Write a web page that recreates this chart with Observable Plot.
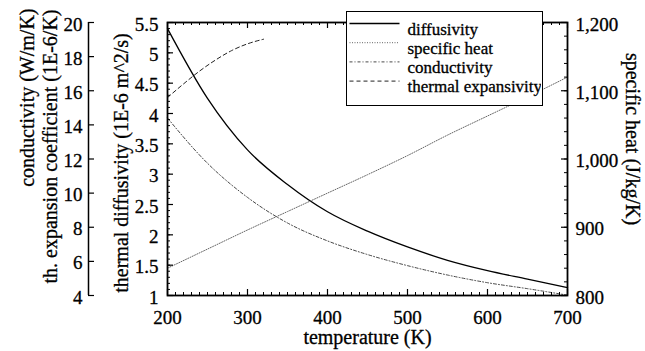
<!DOCTYPE html>
<html>
<head>
<meta charset="utf-8">
<script src="https://cdn.jsdelivr.net/npm/d3@7"></script>
<script src="https://cdn.jsdelivr.net/npm/@observablehq/plot@0.6"></script>
<style>
  html, body { margin: 0; padding: 0; background: #fff; }
  #wrap { position: relative; width: 645px; height: 351px; }
  #legend { position: absolute; left: 346px; top: 11px; width: 197px; height: 95px; box-sizing: border-box; border: 1.5px solid #000; background: #fff; }
</style>
</head>
<body>
<div id="wrap"><div id="chart"></div><div id="legend"></div></div>
<script>
// ---- data ----
const temps = [200, 250, 300, 350, 400, 450, 500, 550, 600, 650, 700];
const diffusivity = [5.40, 4.25, 3.40, 2.83, 2.38, 2.06, 1.80, 1.58, 1.41, 1.27, 1.13];      // 1E-6 m^2/s
const specificHeat = [840, 868, 896, 923, 950, 977, 1005, 1035, 1063, 1091, 1120];           // J/kg/K
const conductivity = [14.4, 11.75, 9.75, 8.25, 7.2, 6.4, 5.75, 5.2, 4.75, 4.4, 4.02];        // W/m/K
const expTemps = [200, 220, 240, 260, 280, 300, 320];
const expansivity = [15.6, 16.4, 17.15, 17.8, 18.35, 18.75, 19.02];                         // 1E-6/K

const tempTicks = [200, 300, 400, 500, 600, 700];
const diffTicks = [1, 1.5, 2, 2.5, 3, 3.5, 4, 4.5, 5, 5.5];
const outerTicks = [4, 6, 8, 10, 12, 14, 16, 18, 20];
const specTicks = [800, 900, 1000, 1100, 1200];

const diffDomain = [1, 5.5];
const outerDomain = [4, 20];
const specDomain = [800, 1200];

const seriesNames = ["diffusivity", "specific heat", "conductivity", "thermal expansivity"];

// map secondary-axis values onto the shared (diffusivity) y scale
const lin = (dom) => (v) => diffDomain[0] + (v - dom[0]) * (diffDomain[1] - diffDomain[0]) / (dom[1] - dom[0]);
const fromOuter = lin(outerDomain);
const fromSpec = lin(specDomain);

const tempMinor = d3.range(200, 701, 10);
const diffMinor = d3.range(10, 56, 1).map(v => v / 10);
const specMinor = d3.range(800, 1201, 20);

const rows = temps.map((t, i) => ({t, d: diffusivity[i], c: conductivity[i], s: specificHeat[i]}));
const expRows = expTemps.map((t, i) => ({t, e: expansivity[i]}));

const W = 645, H = 351, mL = 167, mR = 78, mT = 22, mB = 56;
const fh = H - mT - mB, fw = W - mL - mR;
const font = "'Liberation Serif', 'Times New Roman', serif";
const txt = {fill: "#000", stroke: "#000", strokeWidth: 0.3, fontFamily: font, lineAnchor: "middle"};

const chart = Plot.plot({
  width: W, height: H,
  marginLeft: mL, marginRight: mR, marginTop: mT, marginBottom: mB,
  x: {domain: [200, 700], axis: null},
  y: {domain: diffDomain, axis: null},
  style: {fontFamily: font, fontSize: "19px", background: "#fff", color: "#000", overflow: "visible"},
  marks: [
    Plot.line(rows, {x: "t", y: "d", stroke: "#000", strokeWidth: 1.3, curve: "monotone-x"}),
    Plot.line(rows, {x: "t", y: d => fromSpec(d.s), stroke: "#555", strokeWidth: 0.9, strokeDasharray: "1,1.5", curve: "monotone-x"}),
    Plot.line(rows, {x: "t", y: d => fromOuter(d.c), stroke: "#333", strokeWidth: 0.9, strokeDasharray: "3,2,1,2", curve: "monotone-x"}),
    Plot.line(expRows, {x: "t", y: d => fromOuter(d.e), stroke: "#222", strokeWidth: 1, strokeDasharray: "4,3", curve: "monotone-x"}),
    Plot.frame({stroke: "#000", strokeWidth: 1.8}),
    // x ticks (bottom and top, inward)
    Plot.tickX(tempTicks, {x: d => d, insetTop: fh - 6, stroke: "#000", strokeWidth: 1.2}),
    Plot.tickX(tempMinor, {x: d => d, insetTop: fh - 3, stroke: "#000", strokeWidth: 1}),
    Plot.tickX(tempTicks, {x: d => d, insetBottom: fh - 6, stroke: "#000", strokeWidth: 1.2}),
    Plot.tickX(tempMinor, {x: d => d, insetBottom: fh - 3, stroke: "#000", strokeWidth: 1}),
    // left diffusivity ticks (inward)
    Plot.tickY(diffTicks, {y: d => d, insetRight: fw - 6, stroke: "#000", strokeWidth: 1.2}),
    Plot.tickY(diffMinor, {y: d => d, insetRight: fw - 3, stroke: "#000", strokeWidth: 1}),
    // right specific heat ticks (inward)
    Plot.tickY(specTicks, {y: d => fromSpec(d), insetLeft: fw - 6, stroke: "#000", strokeWidth: 1.2}),
    Plot.tickY(specMinor, {y: d => fromSpec(d), insetLeft: fw - 3, stroke: "#000", strokeWidth: 1}),
    // outer left axis (conductivity / expansion coefficient)
    Plot.ruleX([200], {dx: -79, stroke: "#000", strokeWidth: 1.5}),
    Plot.tickY(outerTicks, {y: d => fromOuter(d), insetRight: fw - 6, dx: -79, stroke: "#000", strokeWidth: 1.2}),
    // tick labels
    Plot.text(tempTicks, {x: d => d, text: d => String(d), frameAnchor: "bottom", dy: 22, textAnchor: "middle", ...txt}),
    Plot.text(diffTicks, {y: d => d, text: d => String(d), frameAnchor: "left", dx: -9, dy: 2, textAnchor: "end", ...txt}),
    Plot.text(outerTicks, {y: d => fromOuter(d), text: d => String(d), frameAnchor: "left", dx: -85, dy: 2, textAnchor: "end", ...txt}),
    Plot.text(specTicks, {y: d => fromSpec(d), text: d => d3.format(",")(d), frameAnchor: "right", dx: 8, dy: 2, textAnchor: "start", ...txt}),
    // axis titles
    Plot.text(["temperature (K)"], {text: d => d, frameAnchor: "bottom", dy: 42, textAnchor: "middle", fontSize: 20, ...txt}),
    Plot.text(["thermal diffusivity (1E-6 m^2/s)"], {text: d => d, frameAnchor: "left", dx: -46, dy: 4, rotate: -90, textAnchor: "middle", fontSize: 20, ...txt}),
    Plot.text(["th. expansion coefficient (1E-6/K)"], {text: d => d, frameAnchor: "top-left", dx: -117, dy: -13, rotate: -90, textAnchor: "end", fontSize: 20, ...txt}),
    Plot.text(["conductivity (W/m/K)"], {text: d => d, frameAnchor: "top-left", dx: -140, dy: -14, rotate: -90, textAnchor: "end", fontSize: 20, ...txt}),
    Plot.text(["specific heat (J/kg/K)"], {text: d => d, frameAnchor: "right", dx: 65, dy: -20, rotate: 90, textAnchor: "middle", fontSize: 20, ...txt})
  ]
});
document.getElementById("chart").appendChild(chart);

// legend box (overlapping the top of the frame, as in the reference)
const lg = d3.select("#legend").append("svg").attr("width", 194).attr("height", 92)
  .style("position", "absolute").style("left", "0px").style("top", "0px");
const styles = [
  {stroke: "#000", width: 1.3, dash: null},
  {stroke: "#555", width: 0.9, dash: "1,1.5"},
  {stroke: "#333", width: 0.9, dash: "3,2,1,2"},
  {stroke: "#222", width: 1, dash: "4,3"}
];
seriesNames.forEach((name, i) => {
  const yLine = 11.5 + i * 19.2;
  lg.append("line").attr("x1", 2.5).attr("x2", 52.5).attr("y1", yLine).attr("y2", yLine)
    .attr("stroke", styles[i].stroke).attr("stroke-width", styles[i].width)
    .attr("stroke-dasharray", styles[i].dash);
  lg.append("text").attr("x", 60.5).attr("y", 22.5 + i * 19.2).text(name)
    .attr("font-family", font).attr("font-size", 17).attr("fill", "#000")
    .attr("stroke", "#000").attr("stroke-width", 0.3);
});
</script>
</body>
</html>
